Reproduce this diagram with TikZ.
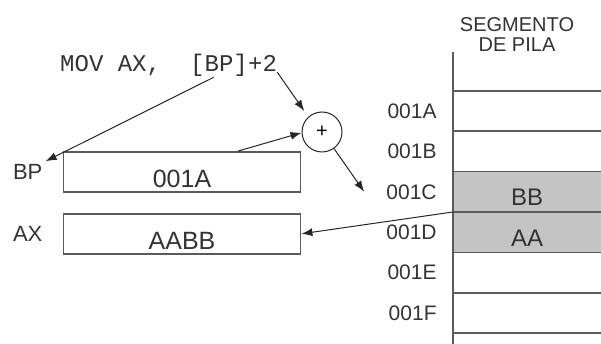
\documentclass[tikz,border=0pt]{standalone}
\usepackage{fontspec}
\setmainfont{Liberation Sans}
\newfontfamily\codefont{Liberation Mono}
\usetikzlibrary{arrows.meta, positioning}
\definecolor{inkgray}{HTML}{333333}
\definecolor{edgegray}{HTML}{5A5A5A}
\definecolor{cellgray}{HTML}{C4C4C4}

\begin{document}
\begin{tikzpicture}[
  x=1pt, y=-1pt,
  node distance=10pt,
  code/.style={font=\codefont\fontsize{24}{24}\selectfont, text=inkgray, inner sep=0pt},
  reg/.style={rectangle, draw=edgegray, line width=1.8pt, minimum width=237pt, minimum height=40pt, inner sep=2pt, text height=32pt, text depth=0pt, font=\fontsize{25}{25}\selectfont, text=inkgray},
  tag/.style={font=\fontsize{22}{22}\selectfont, text=inkgray, inner sep=3pt},
  sumnode/.style={circle, draw=black!85, line width=1pt, minimum size=40pt, inner sep=0pt, font=\fontsize{20}{20}\selectfont},
  cell/.style={rectangle, minimum width=148pt, minimum height=40pt, inner sep=0pt, text height=28pt, text depth=0pt, font=\fontsize{24}{24}\selectfont, text=inkgray},
  addr/.style={font=\fontsize{21}{21}\selectfont, text=inkgray, inner sep=3pt},
  rule/.style={draw=edgegray, line width=1.8pt},
  arrow/.style={-{Latex[length=11pt,width=8pt]}, line width=1pt, draw=black!85}
]
  \useasboundingbox (0,0) rectangle (601,344);

  % instruction
  \node[code, anchor=base west] (mov) at (60,72) {MOV AX,};
  \node[code, base right=28.8pt of mov] (bpref) {[BP]};
  \node[code, base right=0pt of bpref] (plus2) {+2};

  % registers
  \node[reg] (bp) at (182,172) {001A};
  \node[reg, below=20pt of bp] (ax) {AABB};
  \node[tag, left=17pt of bp] (bptag) {BP};
  \node[tag, left=17pt of ax] (axtag) {AX};

  \node[sumnode] (sum) at (322,132) {+};

  % stack segment
  \node[font=\fontsize{20}{20}\selectfont, text=inkgray, align=center] (title) at (517,35) {SEGMENTO\\DE PILA};
  \node[cell] (c0) at (527,111) {};
  \node[cell, below=0pt of c0] (c1) {};
  \node[cell, fill=cellgray, below=0pt of c1] (c2) {BB};
  \node[cell, fill=cellgray, below=0pt of c2] (c3) {AA};
  \node[cell, below=0pt of c3] (c4) {};
  \node[cell, below=0pt of c4] (c5) {};
  \node[addr, left=13pt of c0] (a0) {001A};
  \node[addr, left=13pt of c1] (a1) {001B};
  \node[addr, left=13pt of c2] (a2) {001C};
  \node[addr, left=13pt of c3] (a3) {001D};
  \node[addr, left=13pt of c4] (a4) {001E};
  \node[addr, left=13pt of c5] (a5) {001F};

  \foreach \c in {c0,c1,c2,c3,c4,c5}
    \draw[rule] (\c.north west) -- (\c.north east);
  \draw[rule] (c5.south west) -- (c5.south east);
  \draw[rule] ([yshift=39pt]c0.north west) -- ([yshift=-13pt]c5.south west);

  \coordinate (cptr) at ([xshift=-19pt]a2.west);

  \draw[arrow] ([xshift=-5pt]bpref.south) -- (bptag.north east);
  \draw[arrow, shorten >=7pt] (plus2.south east) -- (sum.132);
  \draw[arrow] ([xshift=56pt]bp.north) -- (sum.182);
  \draw[arrow] (sum.-54) -- (cptr);
  \draw[arrow] (c3.north west) -- (ax.east);
\end{tikzpicture}
\end{document}
